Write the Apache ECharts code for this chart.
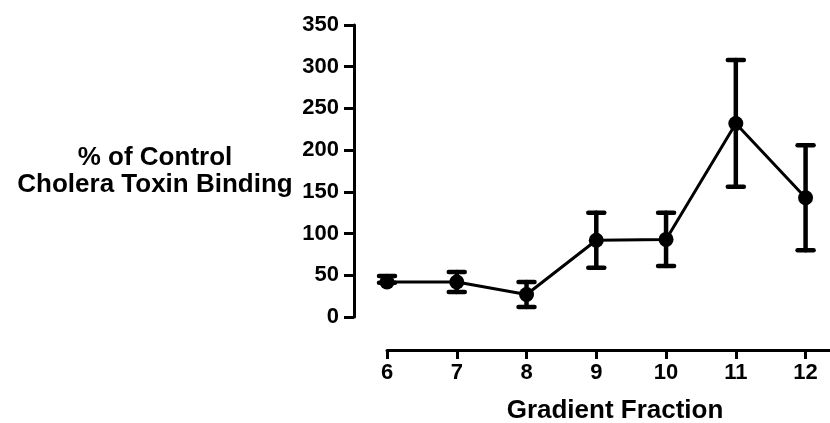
<!DOCTYPE html>
<html>
<head>
<meta charset="utf-8">
<script src="https://cdn.jsdelivr.net/npm/echarts@6/dist/echarts.min.js"></script>
<style>
  html, body { margin: 0; padding: 0; background: #fff; }
  #chart { width: 830px; height: 423px; }
</style>
</head>
<body>
<div id="chart"></div>
<script>
// fractions on the x axis
const fractions = [6, 7, 8, 9, 10, 11, 12]
// % of control binding (mean) and error bar extents above / below
const meanValues = [42, 42, 27, 92, 93, 232, 143]
const errUp = [7, 12, 15, 33, 32, 76, 63]
const errDown = [1, 12, 15, 33, 32, 76, 63]

const FONT = 'Arial, "Liberation Sans", Helvetica, sans-serif'

const lineData = fractions.map((f, i) => [f, meanValues[i]])
const errData = fractions.map((f, i) => [f, meanValues[i] - errDown[i], meanValues[i] + errUp[i]])

const chart = echarts.init(document.getElementById('chart'))

chart.setOption({
  animation: false,
  grid: { left: 387, right: 0, top: 25, bottom: 106, outerBoundsMode: 'none', containLabel: false },
  xAxis: {
    type: 'value',
    min: 6,
    max: 12.35,
    interval: 1,
    offset: 33,
    name: 'Gradient Fraction',
    nameLocation: 'middle',
    nameGap: 61,
    nameTextStyle: {
      fontFamily: FONT, fontWeight: 'bold', fontSize: 26, color: '#000',
      verticalAlign: 'middle', padding: [0, 0, 0, 13]
    },
    splitLine: { show: false },
    axisLine: { show: true, onZero: false, lineStyle: { color: '#000', width: 3 } },
    axisTick: { show: true, length: 9, customValues: fractions, lineStyle: { color: '#000', width: 3 } },
    axisLabel: {
      margin: 12,
      customValues: fractions,
      fontFamily: FONT, fontWeight: 'bold', fontSize: 22, color: '#000'
    }
  },
  yAxis: {
    type: 'value',
    min: 0,
    max: 350,
    interval: 50,
    offset: 33,
    name: '% of Control\nCholera Toxin Binding',
    nameLocation: 'middle',
    nameRotate: 0,
    nameGap: 199,
    nameTextStyle: {
      fontFamily: FONT, fontWeight: 'bold', fontSize: 26, color: '#000',
      align: 'center', verticalAlign: 'middle', lineHeight: 27,
      padding: [0, 0, 5, 0]
    },
    splitLine: { show: false },
    axisLine: { show: true, onZero: false, lineStyle: { color: '#000', width: 3 } },
    axisTick: { show: true, length: 10, lineStyle: { color: '#000', width: 3 } },
    axisLabel: {
      margin: 15,
      fontFamily: FONT, fontWeight: 'bold', fontSize: 22, color: '#000'
    }
  },
  series: [
    {
      type: 'custom',
      data: errData,
      z: 3,
      renderItem: function (params, api) {
        const x = api.value(0)
        const lo = api.coord([x, api.value(1)])
        const hi = api.coord([x, api.value(2)])
        const w = 8
        const style = { stroke: '#000', lineWidth: 4.5, lineCap: 'round' }
        return {
          type: 'group',
          children: [
            { type: 'line', shape: { x1: lo[0], y1: lo[1], x2: hi[0], y2: hi[1] }, style: style },
            { type: 'line', shape: { x1: hi[0] - w, y1: hi[1], x2: hi[0] + w, y2: hi[1] }, style: style },
            { type: 'line', shape: { x1: lo[0] - w, y1: lo[1], x2: lo[0] + w, y2: lo[1] }, style: style }
          ]
        }
      }
    },
    {
      type: 'line',
      data: lineData,
      z: 4,
      symbol: 'circle',
      symbolSize: 15,
      lineStyle: { color: '#000', width: 3 },
      itemStyle: { color: '#000' }
    }
  ]
})
</script>
</body>
</html>
